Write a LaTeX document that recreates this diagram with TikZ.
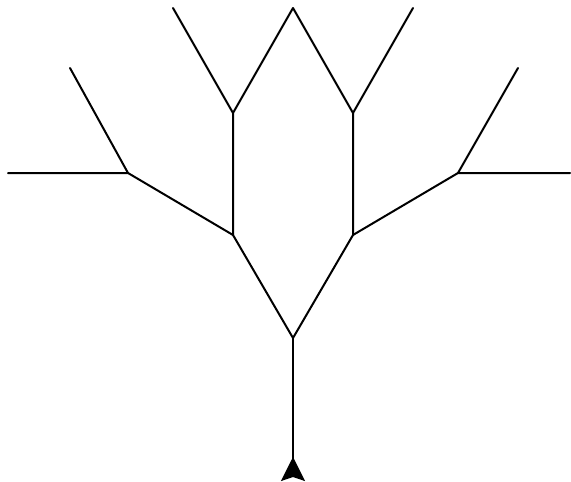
\documentclass[tikz,border=0pt]{standalone}
\usetikzlibrary{arrows.meta}
\begin{document}
\begin{tikzpicture}[x=1pt, y=-1pt, line width=2pt, line cap=round, line join=round]

        \useasboundingbox (0,0) rectangle (571,482);

        % 分叉点
        \coordinate (root) at (293,338);
        \coordinate (foot) at (293,481);
        \coordinate (l1) at (233,235);
        \coordinate (r1) at (353,235);
        \coordinate (l2) at (233,113);
        \coordinate (r2) at (353,113);
        \coordinate (top) at (293,8);
        \coordinate (lt) at (173,8);
        \coordinate (rt) at (413,8);
        \coordinate (ll) at (128,173);
        \coordinate (rr) at (458,173);
        \coordinate (lle) at (8,173);
        \coordinate (rre) at (570,173);
        \coordinate (llt) at (70,68);
        \coordinate (rrt) at (518,68);

        % 主干
        \draw[{Stealth[reversed, length=24pt, width=24pt, inset=4pt]}-] (foot) -- (root);

        % 枝
        \draw (l1) -- (root) -- (r1);
        \draw (l1) -- (l2) -- (top) -- (r2) -- (r1);
        \draw (l2) -- (lt);
        \draw (r2) -- (rt);
        \draw (l1) -- (ll) -- (lle);
        \draw (ll) -- (llt);
        \draw (r1) -- (rr) -- (rre);
        \draw (rr) -- (rrt);
    \end{tikzpicture}
\end{document}
